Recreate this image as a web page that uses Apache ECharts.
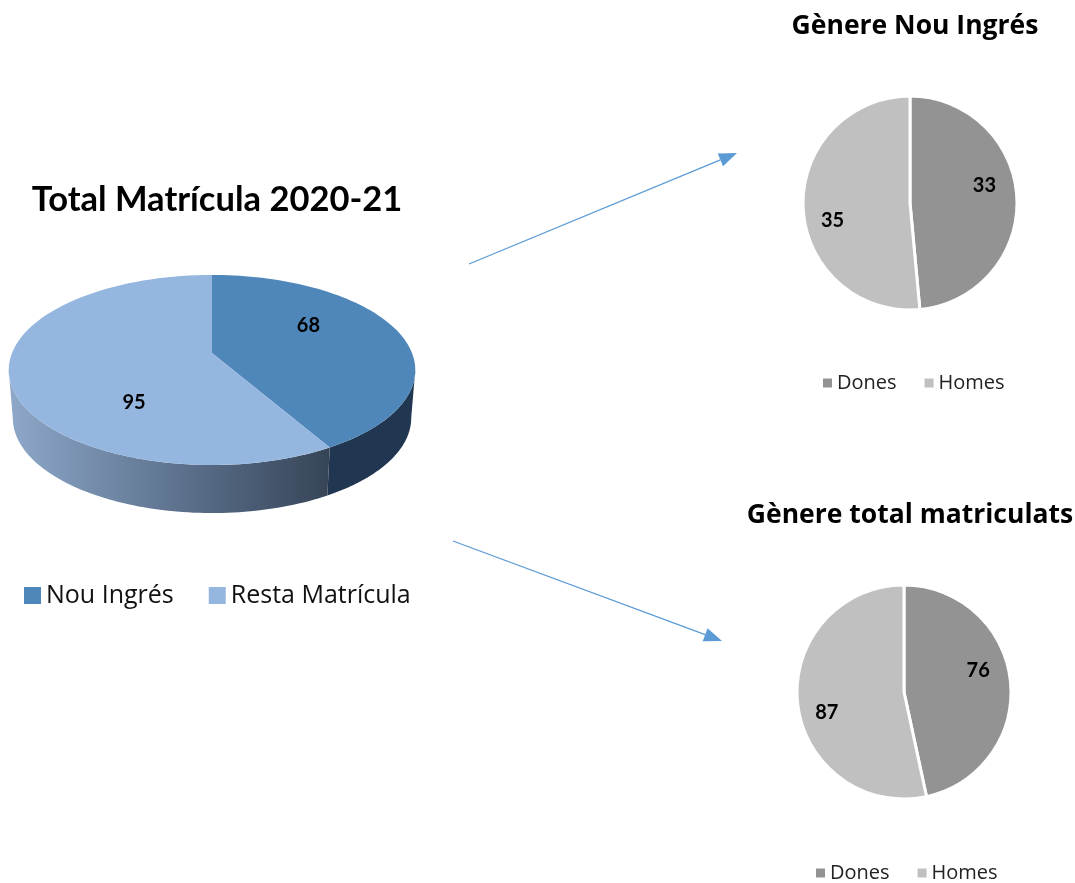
<!DOCTYPE html>
<html>
<head>
<meta charset="utf-8">
<script src="https://cdn.jsdelivr.net/npm/echarts@6/dist/echarts.min.js"></script>
<style>
html, body { margin: 0; padding: 0; background: #fff; }
#main { width: 1075px; height: 883px; }
</style>
</head>
<body>
<div id="main"></div>
<script>
// dades
var totalCats = ['Nou Ingrés', 'Resta Matrícula'];
var totalValues = [68, 95];
var genereCats = ['Dones', 'Homes'];
var nouValues = [33, 35];
var matricValues = [76, 87];

var FONT = 'Lato';
var FONT2 = 'Open Sans';
var topColors = ['#4f87bb', '#95b6de'];
var greyColors = ['#939393', '#c0c0c0'];

// geometria del pastís 3D amb una mica de perspectiva
var P = { cx: 212, vy: 353, A: 200, B: 92, k: 0.179, depth: 48, bA: 196 };
var labelNudge = [[2, -16], [21, 37]];

function proj(a, f, dy, A) {
  var u = Math.sin(a) * f, v = Math.cos(a) * f, w = 1 + P.k * v;
  return [P.cx + A * u / w, P.vy + dy - P.B * v / w];
}
function ptTop(a) { return proj(a, 1, 0, P.A); }
function ptBot(a) { return proj(a, 1, P.depth, P.bA); }

function slice3d(i) {
  return function (params, api) {
    var sum = 0, before = 0;
    for (var j = 0; j < totalValues.length; j++) {
      sum += totalValues[j];
      if (j < i) before += totalValues[j];
    }
    var a0 = before / sum * Math.PI * 2;
    var a1 = (before + totalValues[i]) / sum * Math.PI * 2;
    var n = 80, k, a;
    var top = [[P.cx, P.vy]];
    for (k = 0; k <= n; k++) {
      a = a0 + (a1 - a0) * k / n;
      top.push(ptTop(a));
    }
    var children = [];
    var edge = Math.asin(P.k);
    var s0 = Math.max(a0, Math.PI / 2 + edge), s1 = Math.min(a1, Math.PI * 1.5 - edge);
    if (s1 > s0) {
      var side = [];
      for (k = 0; k <= n; k++) side.push(ptTop(s0 + (s1 - s0) * k / n));
      for (k = n; k >= 0; k--) side.push(ptBot(s0 + (s1 - s0) * k / n));
      var fill = i === 0 ? '#213650' :
        new echarts.graphic.LinearGradient(1, 0, 0, 0, [
          { offset: 0, color: '#364457' },
          { offset: 0.5, color: '#5f7591' },
          { offset: 1, color: '#8ea8c9' }
        ]);
      children.push({ type: 'polygon', z2: 1, shape: { points: side }, style: { fill: fill } });
    }
    children.push({ type: 'polygon', z2: 2, shape: { points: top }, style: { fill: topColors[i] } });
    var lp = proj((a0 + a1) / 2, 0.5, 0, P.A);
    children.push({
      type: 'text', z2: 3,
      style: {
        text: String(totalValues[i]),
        x: lp[0] + labelNudge[i][0],
        y: lp[1] + labelNudge[i][1],
        align: 'center', verticalAlign: 'middle',
        fontFamily: FONT, fontWeight: 'bold', fontSize: 20, fill: '#000'
      }
    });
    return { type: 'group', children: children };
  };
}

function arrow(x1, y1, x2, y2) {
  var dx = x2 - x1, dy = y2 - y1, len = Math.sqrt(dx * dx + dy * dy);
  var ux = dx / len, uy = dy / len;
  var hl = 18, hw = 7;
  var bx = x2 - ux * hl, by = y2 - uy * hl;
  return [
    { type: 'line', shape: { x1: x1, y1: y1, x2: bx, y2: by }, style: { stroke: '#5b9bd5', lineWidth: 1.3 } },
    { type: 'polygon', shape: { points: [[x2, y2], [bx - uy * hw, by + ux * hw], [bx + uy * hw, by - ux * hw]] },
      style: { fill: '#5b9bd5' } }
  ];
}

var pieOffsets = [[18, -15], [-21, 15]];

function flatPie(name, values, center) {
  return {
    name: name,
    type: 'pie',
    center: center,
    radius: 107,
    startAngle: 90,
    clockwise: true,
    silent: true,
    data: genereCats.map(function (c, i) {
      return { name: c, value: values[i], itemStyle: { color: greyColors[i] } };
    }),
    itemStyle: { borderColor: '#fff', borderWidth: 3 },
    label: {
      show: true, position: 'inside', formatter: '{c}',
      fontFamily: FONT, fontWeight: 'bold', fontSize: 20, color: '#000'
    },
    labelLine: { show: false },
    labelLayout: function (p) {
      return { dx: pieOffsets[p.dataIndex][0], dy: pieOffsets[p.dataIndex][1] };
    }
  };
}

var myChart = echarts.init(document.getElementById('main'));
var option = {
  backgroundColor: '#fff',
  animation: false,
  title: [
    { text: 'Total Matrícula 2020-21', left: 212, top: 177, textAlign: 'center',
      textStyle: { fontFamily: FONT, fontWeight: 'bold', fontSize: 34.5, color: '#000' } },
    { text: 'Gènere Nou Ingrés', left: 910, top: 8, textAlign: 'center',
      textStyle: { fontFamily: FONT2, fontWeight: 'bold', fontSize: 26.5, color: '#000' } },
    { text: 'Gènere total matriculats', left: 905, top: 497, textAlign: 'center',
      textStyle: { fontFamily: FONT2, fontWeight: 'bold', fontSize: 26.5, color: '#000' } }
  ],
  legend: [
    { data: totalCats, left: 19, top: 578, icon: 'rect', itemWidth: 17, itemHeight: 17, itemGap: 35,
      itemStyle: { borderWidth: 0 },
      selectedMode: false, textStyle: { fontFamily: FONT2, fontSize: 25, color: '#111' } },
    { data: genereCats, left: 818, top: 368, icon: 'rect', itemWidth: 9, itemHeight: 9, itemGap: 28,
      itemStyle: { borderWidth: 0 },
      selectedMode: false, textStyle: { fontFamily: FONT2, fontSize: 20, color: '#222' } },
    { data: genereCats, left: 811, top: 858, icon: 'rect', itemWidth: 9, itemHeight: 9, itemGap: 28,
      itemStyle: { borderWidth: 0 },
      selectedMode: false, textStyle: { fontFamily: FONT2, fontSize: 20, color: '#222' } }
  ],
  graphic: arrow(469, 264, 737, 153).concat(arrow(453, 541, 722, 641)),
  series: [
    { name: totalCats[0], type: 'custom', coordinateSystem: 'none', silent: true,
      itemStyle: { color: topColors[0] }, data: [[totalValues[0]]], renderItem: slice3d(0) },
    { name: totalCats[1], type: 'custom', coordinateSystem: 'none', silent: true,
      itemStyle: { color: topColors[1] }, data: [[totalValues[1]]], renderItem: slice3d(1) },
    flatPie('Nou', nouValues, [910, 203]),
    flatPie('Matric', matricValues, [904, 692])
  ]
};
myChart.setOption(option);
</script>
</body>
</html>
